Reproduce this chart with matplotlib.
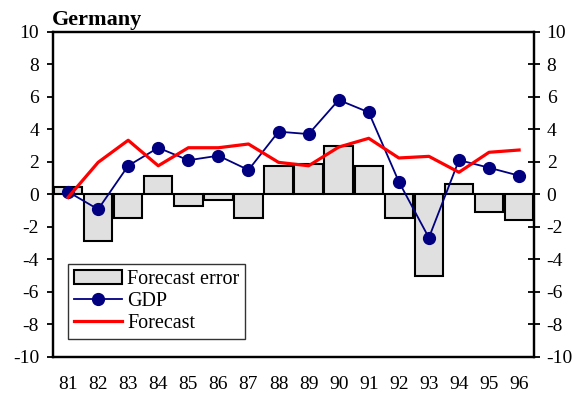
import matplotlib
matplotlib.use("Agg")
import matplotlib.pyplot as plt
import numpy as np

plt.rcParams["font.family"] = ["Liberation Serif", "DejaVu Serif"]
plt.rcParams["axes.unicode_minus"] = False

years = ["81", "82", "83", "84", "85", "86", "87", "88",
         "89", "90", "91", "92", "93", "94", "95", "96"]
gdp = [0.15, -0.93, 1.75, 2.86, 2.09, 2.37, 1.49, 3.85,
       3.70, 5.80, 5.04, 0.77, -2.68, 2.10, 1.63, 1.14]
forecast = [-0.2, 1.96, 3.32, 1.75, 2.86, 2.86, 3.09, 1.96,
            1.75, 2.90, 3.44, 2.23, 2.33, 1.35, 2.58, 2.72]
forecast_error = [0.42, -2.88, -1.45, 1.14, -0.71, -0.36, -1.45, 1.74,
                  1.86, 2.97, 1.74, -1.45, -5.01, 0.65, -1.12, -1.59]
yticks = [-10, -8, -6, -4, -2, 0, 2, 4, 6, 8, 10]

fig = plt.figure(figsize=(5.83, 4.03), dpi=100)
ax = fig.add_axes([0.0909, 0.1149, 0.8253, 0.8064])

x = np.arange(len(years))
bars = ax.bar(x, forecast_error, width=0.945, color="#e0e0e0",
              edgecolor="black", linewidth=1.5, label="Forecast error",
              zorder=2)
ax.axhline(0, color="black", linewidth=1.3, zorder=2.5)
gdp_line, = ax.plot(x, gdp, color="#000080", linewidth=1.3, marker="o",
                    markersize=8.5, label="GDP", zorder=3)
fc_line, = ax.plot(x, forecast, color="#ff0000", linewidth=2.3,
                   label="Forecast", zorder=4)

ax.set_xlim(-0.5, len(years) - 0.5)
ax.set_ylim(-10, 10)
ax.set_yticks(yticks)
ax.set_yticklabels([str(v) for v in yticks])
ax.set_xticks(x)
ax.set_xticklabels(years)
ax.tick_params(axis="x", length=0, pad=14, labelsize=14)
ax.tick_params(axis="y", direction="out", length=4, width=1.3, pad=6,
               labelsize=14)
for s in ax.spines.values():
    s.set_linewidth(1.6)

ax2 = ax.twinx()
ax2.set_ylim(-10, 10)
ax2.set_yticks(yticks)
ax2.set_yticklabels([str(v) for v in yticks])
ax2.tick_params(axis="y", direction="inout", length=8, width=1.3, pad=5,
                labelsize=14)
for s in ax2.spines.values():
    s.set_linewidth(1.6)

leg = ax.legend([bars, gdp_line, fc_line],
                ["Forecast error", "GDP", "Forecast"],
                loc="lower left", bbox_to_anchor=(0.0306, 0.0535),
                borderaxespad=0, fontsize=14.5, frameon=True, fancybox=False,
                edgecolor="black", handlelength=2.4, handleheight=0.7,
                labelspacing=0.15, handletextpad=0.25, borderpad=0.3)
leg.get_frame().set_linewidth(1.0)
leg.set_zorder(10)

fig.text(52 / 583, 1 - 25 / 403, "Germany", fontsize=16, fontweight="bold",
         ha="left", va="baseline")

fig.savefig("out.png", dpi=100)
